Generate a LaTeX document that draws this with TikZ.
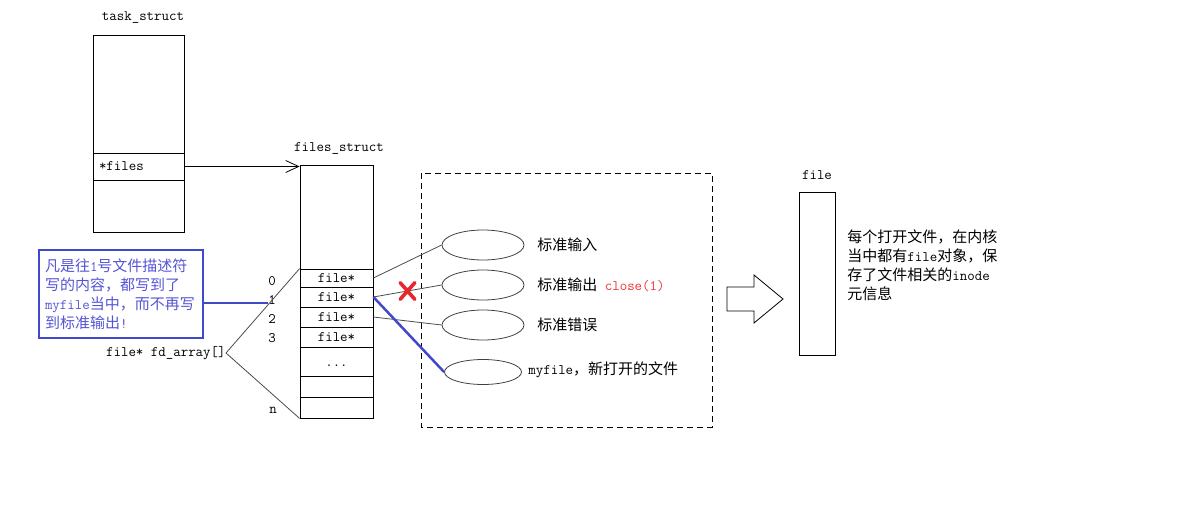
\documentclass[tikz,border=0pt]{standalone}
\usepackage{fontspec}
\newfontfamily\cjk{Noto Sans CJK SC}
\usetikzlibrary{shapes.geometric,shapes.misc,arrows.meta}
\definecolor{noteblue}{RGB}{64,72,204}
\definecolor{notetext}{RGB}{84,84,214}
\definecolor{closered}{RGB}{240,52,52}
\definecolor{xred}{RGB}{232,38,46}
\newcommand{\Zh}[1]{{\cjk\fontsize{15}{19}\selectfont #1}}

\begin{document}
\begin{tikzpicture}[x=1pt, y=-1pt, line width=0.8pt,
    every node/.style={font=\fontsize{14.5}{19}\selectfont\ttfamily, inner sep=0pt},
    cell/.style={draw, minimum width=73pt},
    fdline/.style={draw=black!70},
    fdell/.style={draw=black!75, ellipse, minimum width=82pt, minimum height=30pt},
    crossmark/.style={cross out, draw=xred, line width=3.6pt, line cap=round, minimum width=11pt, minimum height=13pt}]

    \useasboundingbox (0,0) rectangle (1189,511);

    % task_struct
    \draw(143,18) node (tasklbl) {task\_struct};
    \draw(138.5,94) node[draw, minimum width=91pt, minimum height=118pt] (tasktop) {};
    \draw(138.5,166.5) node[draw, minimum width=91pt, minimum height=27pt, text width=79pt, align=left, inner xsep=6pt] (files) {*files};
    \draw(138.5,206) node[draw, minimum width=91pt, minimum height=52pt] (taskbot) {};

    % files_struct
    \draw(339,148) node (fslbl) {files\_struct};
    \draw(336.5,217) node[cell, minimum height=104pt] (fstop) {};
    \draw(336.5,278) node[cell, minimum height=18pt] (fd0) {file*};
    \draw(336.5,297) node[cell, minimum height=20pt] (fd1) {file*};
    \draw(336.5,317) node[cell, minimum height=20pt] (fd2) {file*};
    \draw(336.5,337) node[cell, minimum height=20pt] (fd3) {file*};
    \draw(336.5,361.5) node[cell, minimum height=29pt] (fddots) {};
    \draw(336.5,366) node (dots) {...};
    \draw(336.5,386.5) node[cell, minimum height=21pt] (fd5) {};
    \draw(336.5,407.5) node[cell, minimum height=21pt] (fdn) {};
    \draw[-{Straight Barb[length=13pt, width=12pt]}] (files.east) -- (files.east -| fstop.west);

    \draw(272,281) node (i0) {0};
    \draw(272,300) node (i1) {1};
    \draw(272,319) node (i2) {2};
    \draw(272,338) node (i3) {3};
    \draw(273,410) node (in) {n};
    \draw(226,353) node[anchor=east] (fdarr) {file* fd\_array[]};
    \draw[fdline] (fdarr.east) -- (fd0.north west);
    \draw[fdline] (fdarr.east) -- (fdn.south west);

    % note
    \draw(121,294) node[draw=noteblue, line width=2.5pt, text=notetext, minimum width=164pt, minimum height=88pt, text width=152pt, align=left] (note)
        {\Zh{凡是往}1\Zh{号文件描述符}\\\Zh{写的内容，都写到了}\\myfile\Zh{当中，而不再写}\\\Zh{到标准输出}!};
    \draw[noteblue, line width=2.5pt] ([yshift=-3pt]note.east |- i1.west) -- ([yshift=-3pt]i1.west);

    % open files
    \draw[dashed, dash pattern=on 6pt off 4pt] (421,173) rectangle (712,427);
    \draw(483,245) node[fdell] (stdin) {};
    \draw(483,285) node[fdell] (stdout) {};
    \draw(483,325) node[fdell] (stderr) {};
    \draw(483,372) node[fdell, minimum width=77pt, minimum height=25pt] (myf) {};
    \draw(537,245) node[anchor=west] (inlbl) {\Zh{标准输入}};
    \draw(537,285) node[anchor=west] (outlbl) {\Zh{标准输出} {\color{closered}close(1)}};
    \draw(537,325) node[anchor=west] (errlbl) {\Zh{标准错误}};
    \draw(528,370) node[anchor=west] (myflbl) {myfile\Zh{，新打开的文件}};
    \draw[fdline] (fd0.east) -- (stdin.west);
    \draw[fdline] (fd1.east) -- node[crossmark] (cut) {} (stdout.west);
    \draw[fdline] (fd2.east) -- (stderr.west);
    \draw[noteblue, line width=2.5pt] (fd1.east) -- (myf.west);

    % file
    \draw (727,287) -- (754,287) -- (754,275) -- (783,299) -- (754,323) -- (754,311) -- (727,311) -- cycle;
    \draw(817,175) node (filelbl) {file};
    \draw(817,273.5) node[draw, minimum width=36pt, minimum height=163pt] (filebox) {};
    \draw(847,229) node[anchor=north west, text width=170pt, align=left] (filetxt)
        {\Zh{每个打开文件，在内核}\\\Zh{当中都有}file\Zh{对象，保}\\\Zh{存了文件相关的}inode\\\Zh{元信息}};

\end{tikzpicture}
\end{document}
